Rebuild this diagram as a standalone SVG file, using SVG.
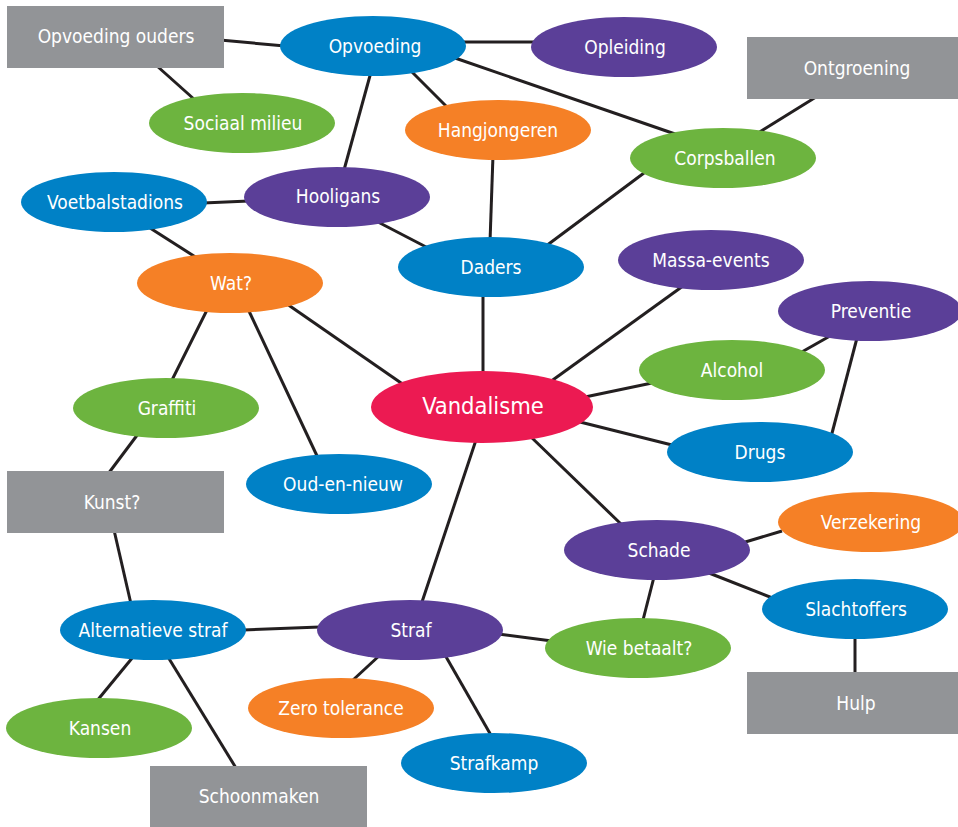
<svg xmlns="http://www.w3.org/2000/svg" width="958" height="827" viewBox="0 0 958 827">
<style>
.e{stroke:none}
.blue{fill:#0081C6}
.purple{fill:#5B3F98}
.green{fill:#6DB43F}
.orange{fill:#F58026}
.pink{fill:#EC1A52}
.gray{fill:#929497}
text{font-family:"Liberation Sans Narrow","DejaVu Sans Condensed","Liberation Sans",sans-serif;font-size:19px;fill:#FFFFFF;text-anchor:middle;dominant-baseline:central}
.big{font-size:23.5px}
#connectors line{stroke:#231F20;stroke-width:3}
</style>
<rect width="958" height="827" fill="#FFFFFF"/>
<g id="connectors">
<line x1="220" y1="40" x2="285" y2="46"/>
<line x1="157" y1="66" x2="195" y2="100"/>
<line x1="460" y1="42" x2="535" y2="42"/>
<line x1="455" y1="58" x2="678" y2="135"/>
<line x1="410" y1="70" x2="448" y2="108"/>
<line x1="371" y1="72" x2="344" y2="170"/>
<line x1="816" y1="97" x2="758" y2="133"/>
<line x1="493" y1="155" x2="490" y2="242"/>
<line x1="648" y1="170" x2="546" y2="246"/>
<line x1="203" y1="203" x2="249" y2="201"/>
<line x1="378" y1="222" x2="430" y2="249"/>
<line x1="150" y1="228" x2="197" y2="258"/>
<line x1="483" y1="292" x2="483" y2="375"/>
<line x1="683" y1="286" x2="550" y2="382"/>
<line x1="287" y1="304" x2="404" y2="385"/>
<line x1="208" y1="308" x2="171" y2="382"/>
<line x1="248" y1="309" x2="318" y2="458"/>
<line x1="830" y1="336" x2="800" y2="353"/>
<line x1="857" y1="338" x2="831" y2="437"/>
<line x1="585" y1="397" x2="652" y2="383"/>
<line x1="580" y1="422" x2="672" y2="445"/>
<line x1="530" y1="436" x2="622" y2="525"/>
<line x1="476" y1="440" x2="421" y2="605"/>
<line x1="138" y1="434" x2="108" y2="474"/>
<line x1="114" y1="530" x2="131" y2="604"/>
<line x1="742" y1="543" x2="782" y2="531"/>
<line x1="709" y1="573" x2="775" y2="599"/>
<line x1="654" y1="577" x2="643" y2="620"/>
<line x1="855" y1="636" x2="855" y2="674"/>
<line x1="243" y1="630" x2="320" y2="627"/>
<line x1="498" y1="634" x2="552" y2="641"/>
<line x1="380" y1="655" x2="353" y2="680"/>
<line x1="445" y1="655" x2="492" y2="737"/>
<line x1="133" y1="657" x2="96" y2="702"/>
<line x1="168" y1="657" x2="236" y2="768"/>
</g>
<g id="opvoeding-ouders"><rect class="gray" x="7" y="6" width="217" height="62"/><text x="116" y="36">Opvoeding ouders</text></g>
<g id="opvoeding"><ellipse class="blue" cx="373" cy="46" rx="93" ry="30"/><text x="375" y="46">Opvoeding</text></g>
<g id="opleiding"><ellipse class="purple" cx="624" cy="47" rx="93" ry="30"/><text x="625" y="47">Opleiding</text></g>
<g id="ontgroening"><rect class="gray" x="747" y="37" width="211" height="62"/><text x="857" y="68">Ontgroening</text></g>
<g id="sociaal-milieu"><ellipse class="green" cx="242" cy="123" rx="93" ry="30"/><text x="243" y="123">Sociaal milieu</text></g>
<g id="hangjongeren"><ellipse class="orange" cx="498" cy="130" rx="93" ry="30"/><text x="498" y="130">Hangjongeren</text></g>
<g id="corpsballen"><ellipse class="green" cx="723" cy="158" rx="93" ry="30"/><text x="725" y="158">Corpsballen</text></g>
<g id="voetbalstadions"><ellipse class="blue" cx="114" cy="202" rx="93" ry="30"/><text x="115" y="202">Voetbalstadions</text></g>
<g id="hooligans"><ellipse class="purple" cx="337" cy="197" rx="93" ry="30"/><text x="338" y="196">Hooligans</text></g>
<g id="daders"><ellipse class="blue" cx="491" cy="267" rx="93" ry="30"/><text x="491" y="267">Daders</text></g>
<g id="wat"><ellipse class="orange" cx="230" cy="283" rx="93" ry="30"/><text x="231" y="283">Wat?</text></g>
<g id="massa-events"><ellipse class="purple" cx="711" cy="260" rx="93" ry="30"/><text x="711" y="260">Massa-events</text></g>
<g id="preventie"><ellipse class="purple" cx="870" cy="311" rx="92" ry="30"/><text x="871" y="311">Preventie</text></g>
<g id="alcohol"><ellipse class="green" cx="732" cy="370" rx="93" ry="30"/><text x="732" y="370">Alcohol</text></g>
<g id="drugs"><ellipse class="blue" cx="760" cy="452" rx="93" ry="30"/><text x="760" y="452">Drugs</text></g>
<g id="vandalisme"><ellipse class="pink" cx="482" cy="407" rx="111" ry="36"/><text class="big" x="483" y="406">Vandalisme</text></g>
<g id="graffiti"><ellipse class="green" cx="166" cy="408" rx="93" ry="30"/><text x="167" y="408">Graffiti</text></g>
<g id="oud-en-nieuw"><ellipse class="blue" cx="339" cy="484" rx="93" ry="30"/><text x="343" y="484">Oud-en-nieuw</text></g>
<g id="kunst"><rect class="gray" x="7" y="471" width="217" height="62"/><text x="112" y="502">Kunst?</text></g>
<g id="schade"><ellipse class="purple" cx="657" cy="550" rx="93" ry="30"/><text x="659" y="550">Schade</text></g>
<g id="verzekering"><ellipse class="orange" cx="871" cy="522" rx="93" ry="30"/><text x="871" y="522">Verzekering</text></g>
<g id="slachtoffers"><ellipse class="blue" cx="855" cy="609" rx="93" ry="30"/><text x="856" y="609">Slachtoffers</text></g>
<g id="wie-betaalt"><ellipse class="green" cx="638" cy="648" rx="93" ry="30"/><text x="639" y="648">Wie betaalt?</text></g>
<g id="hulp"><rect class="gray" x="747" y="672" width="211" height="62"/><text x="856" y="703">Hulp</text></g>
<g id="alternatieve-straf"><ellipse class="blue" cx="153" cy="630" rx="93" ry="30"/><text x="153" y="630">Alternatieve straf</text></g>
<g id="straf"><ellipse class="purple" cx="410" cy="630" rx="93" ry="30"/><text x="411" y="630">Straf</text></g>
<g id="kansen"><ellipse class="green" cx="99" cy="728" rx="93" ry="30"/><text x="100" y="728">Kansen</text></g>
<g id="zero-tolerance"><ellipse class="orange" cx="341" cy="708" rx="93" ry="30"/><text x="341" y="708">Zero tolerance</text></g>
<g id="strafkamp"><ellipse class="blue" cx="494" cy="763" rx="93" ry="30"/><text x="494" y="763">Strafkamp</text></g>
<g id="schoonmaken"><rect class="gray" x="150" y="766" width="217" height="62"/><text x="259" y="796">Schoonmaken</text></g>
</svg>
